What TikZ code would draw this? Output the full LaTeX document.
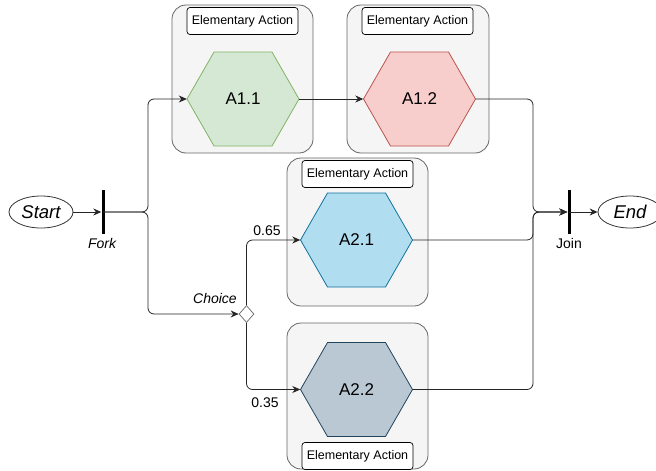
\documentclass[tikz,border=0pt]{standalone}
\usepackage{fontspec}
\setmainfont{Liberation Sans}
\usetikzlibrary{shapes.geometric,arrows.meta,calc}
\definecolor{boxfill}{HTML}{F5F5F5}
\definecolor{boxdraw}{HTML}{666666}
\definecolor{gfill}{HTML}{D5E8D4}\definecolor{gdraw}{HTML}{82B366}
\definecolor{rfill}{HTML}{F8CECC}\definecolor{rdraw}{HTML}{B85450}
\definecolor{bfill}{HTML}{B1DDF0}\definecolor{bdraw}{HTML}{10739E}
\definecolor{sfill}{HTML}{BAC8D3}\definecolor{sdraw}{HTML}{23445D}
\newcommand\hexpath[3]{\draw[line width=0.8pt,#3] (#1-56,#2) -- (#1-29,#2-47) -- (#1+29,#2-47) -- (#1+56,#2) -- (#1+29,#2+47) -- (#1-29,#2+47) -- cycle;}
\begin{document}
\begin{tikzpicture}[x=1pt,y=-1pt,
  container/.style={draw=boxdraw, fill=boxfill, rounded corners=14pt, line width=0.8pt},
  labelbox/.style={draw=black, fill=white, rounded corners=3pt, minimum width=111pt, minimum height=27pt, inner sep=0pt, line width=0.7pt, font=\fontsize{12.5}{14}\selectfont},
  hexlabel/.style={minimum width=112pt, minimum height=94pt, inner sep=0pt, font=\fontsize{17}{20}\selectfont},
  edge/.style={draw=black!85, line width=0.8pt, rounded corners=6pt},
  arr/.style={edge, -{Stealth[length=8pt,width=7pt]}},
  bar/.style={fill=black, minimum width=3pt, minimum height=44pt, inner sep=0pt},
  terminal/.style={ellipse, draw=black!80, line width=0.8pt, minimum width=64pt, minimum height=32pt, inner sep=0pt, font=\fontsize{18.5}{20}\selectfont\itshape},
  lbl/.style={font=\fontsize{14}{16}\selectfont, inner sep=0pt}]
\useasboundingbox (0,0) rectangle (656,471);
% containers
\draw[container] (172,5) rectangle (313,153);
\draw[container] (347,5) rectangle (489,153);
\draw[container] (287,158) rectangle (428,306);
\draw[container] (287,323) rectangle (428,469);
% label boxes
\node[labelbox] (l11) at (242.5,21) {Elementary Action};
\node[labelbox] (l12) at (417.5,21) {Elementary Action};
\node[labelbox] (l21) at (357.5,174) {Elementary Action};
\node[labelbox] (l22) at (357.5,456) {Elementary Action};
% hexagons
\hexpath{243}{99}{draw=gdraw,fill=gfill}
\hexpath{419.5}{99}{draw=rdraw,fill=rfill}
\hexpath{356.5}{240}{draw=bdraw,fill=bfill}
\hexpath{356.5}{389.5}{draw=sdraw,fill=sfill}
\node[hexlabel] (a11) at (243,99) {A1.1};
\node[hexlabel] (a12) at (419.5,99) {A1.2};
\node[hexlabel] (a21) at (356.5,240) {A2.1};
\node[hexlabel] (a22) at (356.5,389.5) {A2.2};
% terminals and bars
\node[terminal] (start) at (41,212) {Start};
\node[terminal] (end) at (630,212) {End};
\node[bar] (fork) at (103,212) {};
\node[bar] (join) at (569,212) {};
\node[lbl, font=\fontsize{14}{16}\selectfont\itshape] (forkl) at (102,243) {Fork};
\node[lbl] (joinl) at (569,243) {Join};
\node[diamond, draw=black!60, fill=white, line width=0.7pt, minimum width=15pt, minimum height=17pt, inner sep=0pt] (choice) at (246.5,314) {};
\node[lbl, font=\fontsize{14}{16}\selectfont\itshape] (choicel) at (215,298) {Choice};
\node[lbl] (p1) at (267,231) {0.65};
\node[lbl] (p2) at (265,403) {0.35};
\coordinate (fj) at (148,212);
\coordinate (jj) at (533,212);
% connectors
\draw[arr] (start) -- (fork);
\draw[arr] (fork.center) -- (fj) |- (a11.west);
\draw[arr] (fork.center) -- (fj) |- (choice.west);
\draw[arr] (a11.east) -- (a12.west);
\draw[arr] (choice.north) |- (a21.west);
\draw[arr] (choice.south) |- (a22.west);
\draw[arr] (a12.east) -| (jj) -- (join);
\draw[arr] (a21.east) -| (jj) -- (join);
\draw[arr] (a22.east) -| (jj) -- (join);
\draw[arr] (join.center) -- (end);
\end{tikzpicture}
\end{document}
